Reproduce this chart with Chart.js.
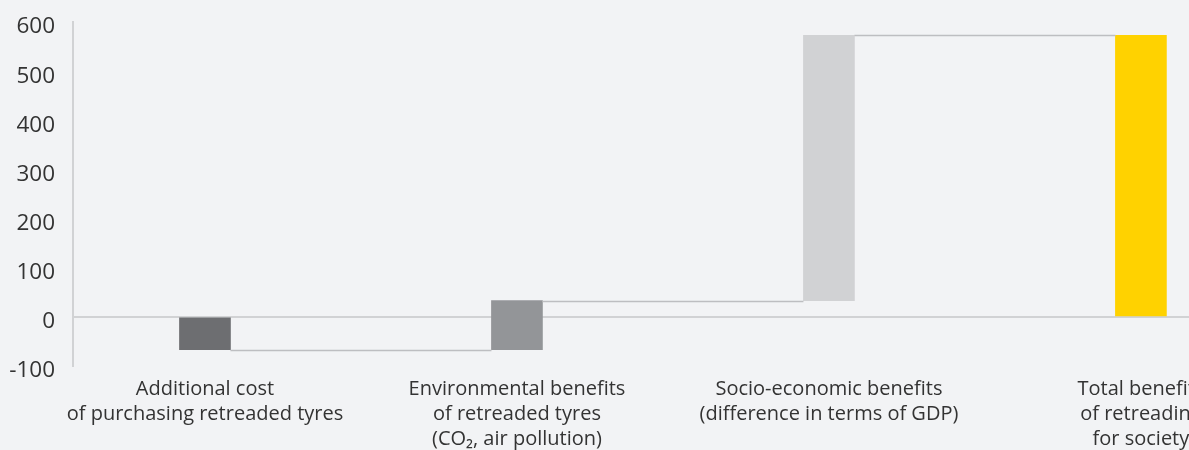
<!DOCTYPE html>
<html>
<head>
<meta charset="utf-8">
<script src="https://cdn.jsdelivr.net/npm/chart.js@4/dist/chart.umd.min.js"></script>
<style>
  html, body { margin: 0; padding: 0; background: #f2f3f5; overflow: hidden; width: 1189px; height: 450px; }
  #wrap { position: relative; width: 1320px; height: 450px; }
</style>
</head>
<body>
<div id="wrap"><canvas id="c"></canvas></div>
<script>
// ---- data ----
const categories = [
  ["Additional cost", "of purchasing retreaded tyres"],
  ["Environmental benefits", "of retreaded tyres", "(CO\u2082, air pollution)"],
  ["Socio-economic benefits", "(difference in terms of GDP)"],
  ["Total benefits", "of retreading", "for society"]
];
const stepValues = [-67, 100, 540];   // changes
const totalValue = 573;               // final total
const barColors = ["#6d6e71", "#939598", "#d1d2d4", "#ffd200"];
const yTicks = [-100, 0, 100, 200, 300, 400, 500, 600];

// build floating bars
const floating = [];
let level = 0;
stepValues.forEach((v, i) => {
  floating.push({ x: i, y: [level, level + v] });
  level += v;
});
floating.push({ x: stepValues.length, y: [0, totalValue] });
const levels = floating.map(d => d.y[1]);

const connectorPlugin = {
  id: 'connectors',
  afterDatasetsDraw(chart) {
    const meta = chart.getDatasetMeta(0);
    const ys = chart.scales.y;
    const ctx = chart.ctx;
    ctx.save();
    ctx.strokeStyle = '#bdbec1';
    ctx.lineWidth = 1.5;
    for (let i = 0; i < meta.data.length - 1; i++) {
      const a = meta.data[i], b = meta.data[i + 1];
      const y = Math.round(ys.getPixelForValue(levels[i])) + 0.5;
      ctx.beginPath();
      ctx.moveTo(a.x + a.width / 2, y);
      ctx.lineTo(b.x - b.width / 2, y);
      ctx.stroke();
    }
    ctx.restore();
  }
};

new Chart(document.getElementById('c'), {
  type: 'bar',
  data: {
    datasets: [{
      data: floating,
      backgroundColor: barColors,
      borderWidth: 0,
      barThickness: 51
    }]
  },
  options: {
    responsive: true,
    maintainAspectRatio: false,
    animation: false,
    layout: { padding: { left: 8, right: 0, top: 2, bottom: 0 } },
    plugins: { legend: { display: false }, tooltip: { enabled: false } },
    scales: {
      x: {
        type: 'linear',
        offset: false,
        min: -0.423,
        max: 3.574,
        grid: { display: false, drawTicks: false },
        border: { display: false },
        afterBuildTicks(axis) {
          axis.ticks = categories.map((_, i) => ({ value: i }));
        },
        afterFit(axis) {
          axis.height = 84;
          axis.paddingLeft = 0;
          axis.paddingRight = 0;
        },
        ticks: {
          autoSkip: false,
          maxRotation: 0,
          padding: 11,
          color: '#333333',
          font: { family: '"Open Sans", sans-serif', size: 20, lineHeight: 1.25 },
          callback: (v) => categories[v] || ''
        }
      },
      y: {
        min: -100,
        max: 600,
        afterBuildTicks(axis) {
          axis.ticks = yTicks.map(v => ({ value: v }));
        },
        afterFit(axis) {
          axis.width = 65;
          axis.paddingTop = 22;
          axis.paddingBottom = 0;
        },
        grid: {
          drawTicks: false,
          lineWidth: 2,
          color: (ctx) => (ctx.tick && ctx.tick.value === 0) ? '#d1d2d4' : 'rgba(0,0,0,0)'
        },
        border: { display: true, color: '#d1d2d4', width: 2 },
        ticks: {
          padding: 18,
          labelOffset: 5,
          color: '#333333',
          font: { family: '"Open Sans", sans-serif', size: 22.5 }
        }
      }
    }
  },
  plugins: [connectorPlugin]
});
</script>
</body>
</html>
